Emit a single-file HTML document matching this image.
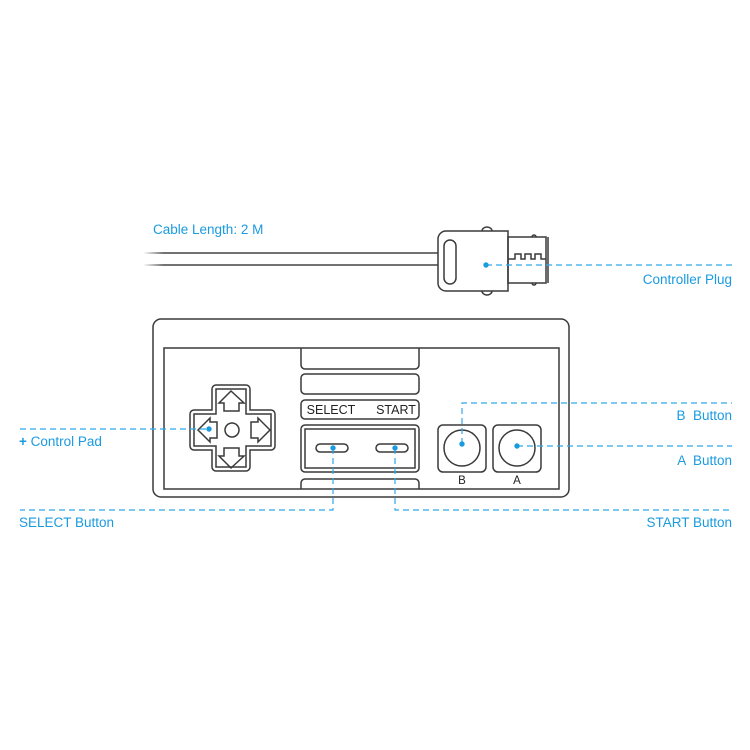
<!DOCTYPE html>
<html><head><style>
html,body{margin:0;padding:0;background:#fff;width:750px;height:750px;overflow:hidden}
text{font-family:"Liberation Sans",sans-serif}
</style></head><body>
<svg width="750" height="750" viewBox="0 0 750 750" xmlns="http://www.w3.org/2000/svg">
<defs>
<linearGradient id="cg" gradientUnits="userSpaceOnUse" x1="143" y1="0" x2="438" y2="0"><stop offset="0" stop-color="#444" stop-opacity="0"/><stop offset="0.07" stop-color="#444"/><stop offset="1" stop-color="#444"/></linearGradient>
</defs>
<g fill="none" stroke="#3a3a3a" stroke-width="1.5">
<!-- cable -->
<line x1="143" y1="253" x2="438" y2="253" stroke="url(#cg)"/>
<line x1="143" y1="265" x2="438" y2="265" stroke="url(#cg)"/>
<!-- plug -->
<path d="M482 231 a5 4 0 0 1 10 0 M482 291 a5 4 0 0 0 10 0"/>
<path d="M508 231 H446 a8 8 0 0 0 -8 8 V283 a8 8 0 0 0 8 8 H508 Z" fill="#fff"/>
<rect x="444" y="240" width="12" height="44" rx="6"/>
<rect x="508" y="237" width="38" height="46"/>
<line x1="548" y1="237" x2="548" y2="283"/>
<path d="M532 237 a2 2 0 0 1 4 0 M532 283 a2 2 0 0 0 4 0"/>
<path d="M508 259 H515 V254 H521 V259 H525 V254 H531 V259 H535 V254 H541 V259 H546"/>
<!-- body -->
<rect x="153" y="319" width="416" height="178" rx="8"/>
<rect x="164" y="348" width="395" height="141"/>
<!-- middle stack -->
<path d="M301 348 V365 a4 4 0 0 0 4 4 H415 a4 4 0 0 0 4 -4 V348"/>
<rect x="301" y="374" width="118" height="20" rx="4"/>
<rect x="301" y="400" width="118" height="19" rx="4"/>
<rect x="301" y="425" width="118" height="47" rx="4"/>
<rect x="305" y="429" width="110" height="39"/>
<path d="M301 489 V483 a4 4 0 0 1 4 -4 H415 a4 4 0 0 1 4 4 V489"/>
<rect x="316" y="444" width="32" height="8" rx="4"/>
<rect x="376" y="444" width="32" height="8" rx="4"/>
<!-- dpad -->
<path d="M216 385 H246 a4 4 0 0 1 4 4 V410 H271 a4 4 0 0 1 4 4 V446 a4 4 0 0 1 -4 4 H250 V467 a4 4 0 0 1 -4 4 H216 a4 4 0 0 1 -4 -4 V450 H194 a4 4 0 0 1 -4 -4 V414 a4 4 0 0 1 4 -4 H212 V389 a4 4 0 0 1 4 -4 Z"/>
<path d="M216 389 H246 V414 H271 V446 H246 V467 H216 V446 H194 V414 H216 Z"/>
<circle cx="232" cy="430" r="7"/>
<path d="M231 391 L244 403 H239 V411 H224 V403 H219 Z"/>
<path d="M231 468 L244 456 H239 V448 H224 V456 H219 Z"/>
<path d="M198 430 L210 418 V422 H217 V438 H210 V442 Z"/>
<path d="M270 430 L258 418 V422 H251 V438 H258 V442 Z"/>
<!-- A/B -->
<rect x="438" y="425" width="48" height="47" rx="5"/>
<rect x="493" y="425" width="48" height="47" rx="5"/>
<circle cx="462" cy="448" r="18"/>
<circle cx="517" cy="448" r="18"/>
</g>
<g font-size="12.5" fill="#222" text-anchor="middle">
<text x="331" y="414">SELECT</text>
<text x="396" y="414">START</text>
<text x="462" y="484" font-size="11.5">B</text>
<text x="517" y="484" font-size="11.5">A</text>
</g>
<!-- callouts -->
<g fill="none" stroke="#2fa9ea" stroke-width="1.2" stroke-dasharray="6,4">
<line x1="486" y1="265" x2="732" y2="265"/>
<line x1="20" y1="429" x2="209" y2="429"/>
<path d="M333 448 V510 H20"/>
<path d="M395 448 V510 H732"/>
<path d="M462 444 V403 H732"/>
<line x1="517" y1="446" x2="732" y2="446"/>
</g>
<g fill="#1a9be0">
<circle cx="486" cy="265" r="2.7"/>
<circle cx="209" cy="429" r="2.7"/>
<circle cx="333" cy="448" r="2.7"/>
<circle cx="395" cy="448" r="2.7"/>
<circle cx="462" cy="444" r="2.7"/>
<circle cx="517" cy="446" r="2.7"/>
</g>
<g font-size="13.5" fill="#1a9be0">
<text x="153" y="234">Cable Length: 2 M</text>
<text x="19" y="446"><tspan font-weight="bold">+</tspan> Control Pad</text>
<text x="19" y="527">SELECT Button</text>
<g text-anchor="end">
<text x="732" y="284">Controller Plug</text>
<text x="732" y="420" xml:space="preserve">B  Button</text>
<text x="732" y="465" xml:space="preserve">A  Button</text>
<text x="732" y="527">START Button</text>
</g>
</g>
</svg>
</body></html>
